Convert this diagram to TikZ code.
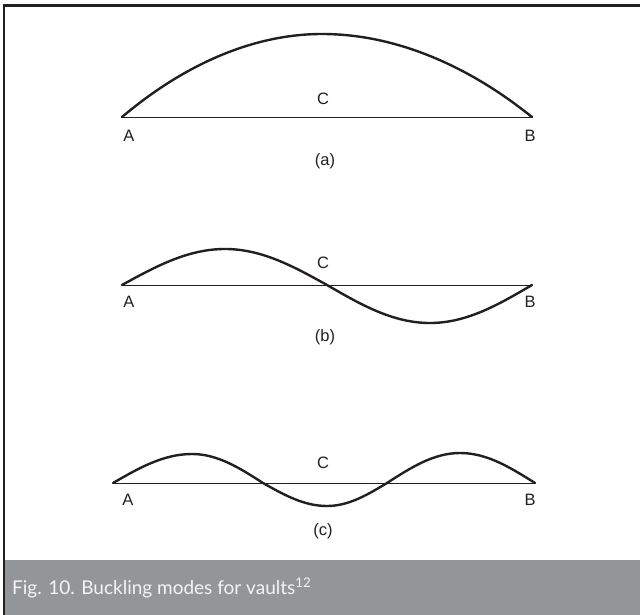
\documentclass[tikz,border=0pt]{standalone}
\usepackage{fontspec}
\setsansfont{Liberation Sans}
\newfontfamily\capfont{Lato}
\definecolor{inkcol}{RGB}{35,31,32}
\definecolor{bandcol}{RGB}{148,149,153}
\definecolor{captcol}{RGB}{244,244,244}
\tikzset{
  chord/.style={inkcol, line width=0.9pt},
  mode/.style={inkcol, line width=2.4pt, line join=round, line cap=round},
  ptlabel/.style={inkcol, font=\sffamily\fontsize{16.5}{19}\selectfont, inner sep=0pt}
}

\begin{document}
\begin{tikzpicture}[x=1pt, y=-1pt]
  \useasboundingbox (0,0) rectangle (640,615);

  % --- frame and caption band --------------------------------------------
  \fill[bandcol] (5,560) rectangle (640,615);
  \draw[inkcol, line width=2.5pt] (4,615) -- (4,5.5) -- (640,5.5);
  \node[captcol, anchor=west, inner sep=0pt, font=\capfont\fontsize{19}{22}\selectfont]
    (Caption) at (12,588) {Fig. 10. Buckling modes for vaults\textsuperscript{12}};

  % --- (a) first mode, single arch ----------------------------------------
  \coordinate (A1) at (122,117);
  \coordinate (B1) at (532,117);
  \draw[chord] (A1) -- (B1);
  \draw[mode] (A1) parabola bend (322,34) (B1);
  \node[ptlabel] (LabA1) at (129,136) {A};
  \node[ptlabel] (LabB1) at (530,136) {B};
  \node[ptlabel] (LabC1) at (323,99) {C};
  \node[ptlabel] (Tag1) at (325,161) {(a)};

  % --- (b) second mode, antisymmetric -------------------------------------
  \coordinate (A2) at (122,285);
  \coordinate (B2) at (532,285);
  \draw[chord] (A2) -- (B2);
  \draw[mode] (A2) sin (225,249) cos (327,285) sin (430,323) cos (B2);
  \node[ptlabel] (LabA2) at (129,302) {A};
  \node[ptlabel] (LabB2) at (530,302) {B};
  \node[ptlabel] (LabC2) at (323,263) {C};
  \node[ptlabel] (Tag2) at (325,337) {(b)};

  % --- (c) third mode, three half waves -----------------------------------
  \coordinate (A3) at (113,483);
  \coordinate (B3) at (535,483);
  \draw[chord] (A3) -- (B3);
  \draw[mode] (A3) sin (192,454) cos (263,483) sin (327,506) cos (387,483)
    sin (460,453) cos (B3);
  \node[ptlabel] (LabA3) at (128,500) {A};
  \node[ptlabel] (LabB3) at (530,500) {B};
  \node[ptlabel] (LabC3) at (323,463) {C};
  \node[ptlabel] (Tag3) at (323,531) {(c)};

\end{tikzpicture}
\end{document}
